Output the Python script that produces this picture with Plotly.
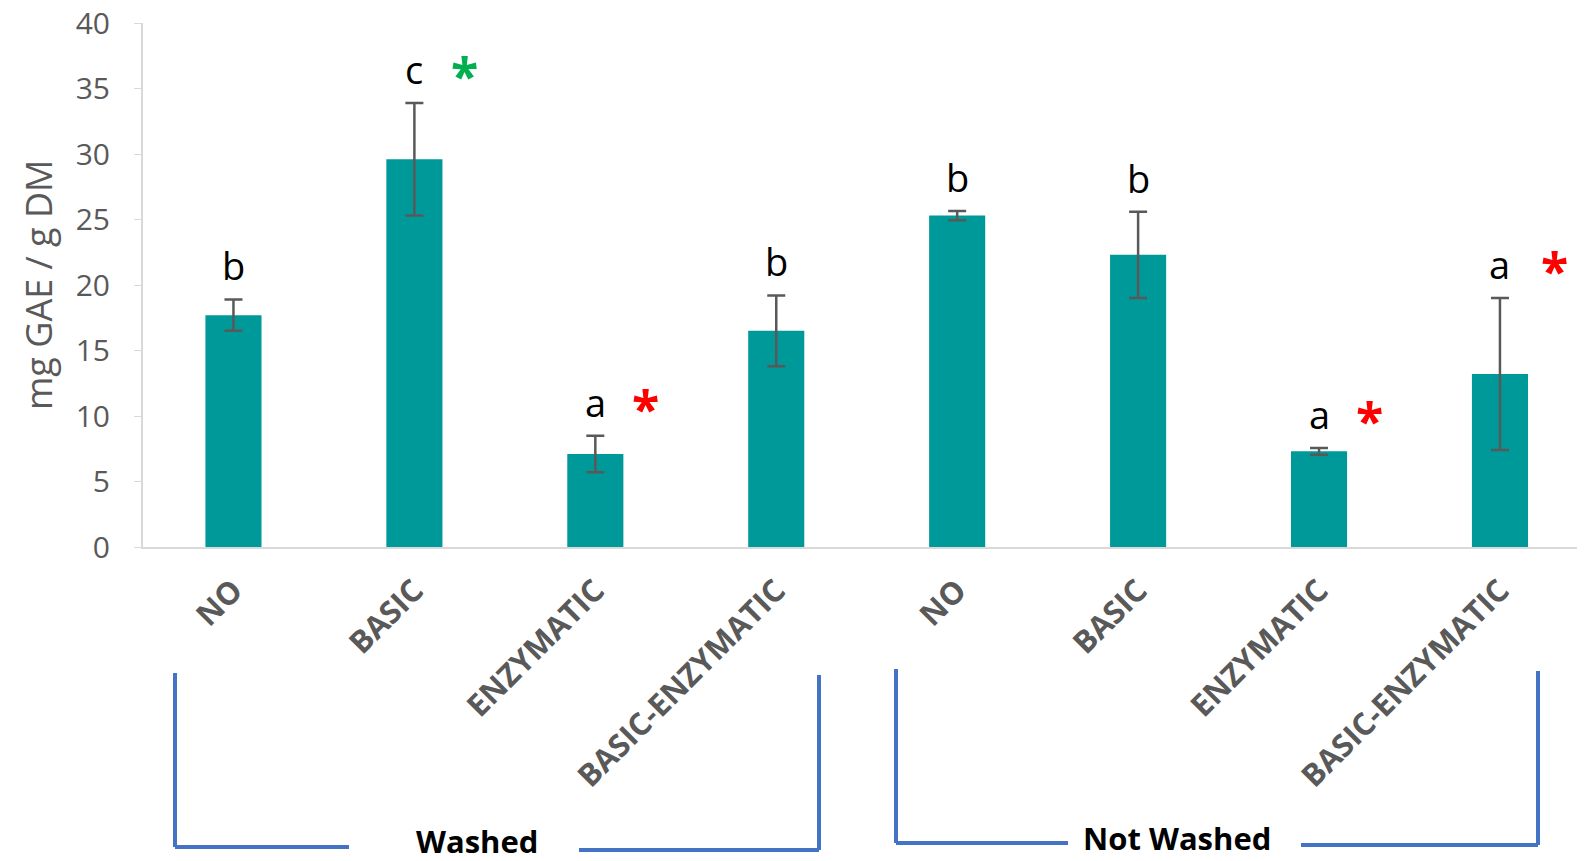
import plotly.graph_objects as go

# ---- data ----
categories = ["NO", "BASIC", "ENZYMATIC", "BASIC-ENZYMATIC",
              "NO", "BASIC", "ENZYMATIC", "BASIC-ENZYMATIC"]
values = [17.7, 29.6, 7.1, 16.5, 25.3, 22.3, 7.3, 13.2]
errors = [1.2, 4.3, 1.4, 2.7, 0.35, 3.3, 0.25, 5.8]
letters = ["b", "c", "a", "b", "b", "b", "a", "a"]
stars = [None, "green", "red", None, None, None, "red", "red"]
groups = ["Washed", "Not Washed"]
y_ticks = [0, 5, 10, 15, 20, 25, 30, 35, 40]
y_title = "mg GAE / g DM"

# page body has an 8px margin: figure origin sits at (8, 8) in the window
OFF = 8
W, H = 1585 - OFF, 861 - OFF
ML, MR, MT, MB = 143 - OFF, 0, 23 - OFF, 314
PW, PH = W - ML - MR, H - MT - MB

TEAL = "#009999"
GRAY = "#595959"
BLUE = "#4472C4"
FONT = "Open Sans"

x = list(range(len(categories)))

fig = go.Figure()
fig.add_trace(go.Bar(
    x=x, y=values, width=0.31,
    marker=dict(color=TEAL, line=dict(width=0)),
    error_y=dict(type="data", array=errors, visible=True,
                 color=GRAY, thickness=2.5, width=9),
    showlegend=False,
))


def px(xw):
    return (xw - OFF - ML) / PW


def py(yw):
    return (H - MB - (yw - OFF)) / PH


annotations = []
star_colors = {"green": "#00B050", "red": "#FF0000"}
for i, (v, e, lt, st) in enumerate(zip(values, errors, letters, stars)):
    annotations.append(dict(
        x=i, y=v + e, xref="x", yref="y", text=lt, showarrow=False,
        yanchor="bottom", yshift=6,
        font=dict(family=FONT, size=38, color="#000000")))
    if st:
        annotations.append(dict(
            x=i, y=v + e, xref="x", yref="y", text="<b>*</b>", showarrow=False,
            yanchor="bottom", xshift=50 if i < 7 else 55, yshift=-8,
            font=dict(family=FONT, size=50, color=star_colors[st])))

# y-axis title
annotations.append(dict(
    x=px(38), y=py(285), xref="paper", yref="paper", text=y_title,
    textangle=-90, showarrow=False, xanchor="center", yanchor="middle",
    font=dict(family=FONT, size=36, color=GRAY)))

shapes = []
brackets = [
    # (left x, right x, top left y, top right y, bottom left y, bottom right y, gap left, gap right)
    (175, 819, 673, 675, 847, 850, 349, 579),
    (896, 1538, 669, 671, 843, 845, 1068, 1301),
]
line = dict(color=BLUE, width=4)
for (xl, xr, ytl, ytr, ybl, ybr, gl, gr) in brackets:
    shapes.append(dict(type="line", xref="paper", yref="paper",
                       x0=px(xl), x1=px(xl), y0=py(ytl), y1=py(ybl), line=line))
    shapes.append(dict(type="line", xref="paper", yref="paper",
                       x0=px(xl), x1=px(gl), y0=py(ybl), y1=py(ybl), line=line))
    shapes.append(dict(type="line", xref="paper", yref="paper",
                       x0=px(gr), x1=px(xr), y0=py(ybr), y1=py(ybr), line=line))
    shapes.append(dict(type="line", xref="paper", yref="paper",
                       x0=px(xr), x1=px(xr), y0=py(ytr), y1=py(ybr), line=line))

group_label_pos = [(477, 841), (1177, 838)]
for g, (gx, gy) in zip(groups, group_label_pos):
    annotations.append(dict(
        x=px(gx), y=py(gy), xref="paper", yref="paper", text=f"<b>{g}</b>",
        showarrow=False, xanchor="center", yanchor="middle",
        font=dict(family=FONT, size=31, color="#000000")))

fig.update_layout(
    width=W, height=H,
    margin=dict(l=ML, r=MR, t=MT, b=MB, pad=0, autoexpand=False),
    plot_bgcolor="white", paper_bgcolor="white",
    font=dict(family=FONT, color=GRAY),
    annotations=annotations, shapes=shapes,
    xaxis=dict(
        range=[-0.5, 7.47], tickmode="array", tickvals=x,
        ticktext=[f"<b>{c}</b>" for c in categories],
        tickangle=-45, tickfont=dict(family=FONT, size=31, color=GRAY),
        ticklabelstandoff=11,
        showline=True, linecolor="#d9d9d9", linewidth=2,
        ticks="", showgrid=False, zeroline=False, automargin=False,
    ),
    yaxis=dict(
        range=[0, 40], tickmode="array", tickvals=y_ticks,
        tickfont=dict(family=FONT, size=30, color=GRAY),
        ticklabeloverflow="allow",
        showline=True, linecolor="#d9d9d9", linewidth=2,
        ticks="outside", ticklen=7, tickcolor="#d9d9d9", tickwidth=1,
        ticklabelstandoff=18,
        showgrid=False, zeroline=False, automargin=False,
    ),
    bargap=0.69,
)

fig.write_html("out.html")
